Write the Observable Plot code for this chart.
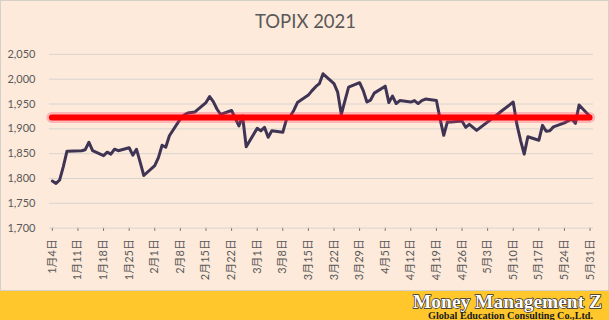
<!DOCTYPE html>
<html>
<head>
<meta charset="utf-8">
<script src="https://cdn.jsdelivr.net/npm/d3@7"></script>
<script src="https://cdn.jsdelivr.net/npm/@observablehq/plot@0.6"></script>
<style>
  html, body { margin: 0; padding: 0; background: #ffffff; }
  #wrap { position: relative; width: 609px; height: 320px; overflow: hidden; }
  #chart { position: absolute; left: 0; top: 0; width: 607px; height: 289px;
           background: #FDEADB; border: 1px solid #D6D0CB; }
  #title { position: absolute; left: 0; top: 9px; width: 609px; text-align: center;
           font-family: Lato, "Open Sans", sans-serif; font-size: 18.5px; color: #595959; }
  #plot { position: absolute; left: -1px; top: -1px; }
  #footer { position: absolute; left: 0; top: 291px; width: 609px; height: 29px; background: #FFC72C; }
</style>
</head>
<body>
<div id="wrap">
  <div id="chart"><div id="plot"></div><div id="title">TOPIX 2021</div></div>
  <div id="footer">
    <svg width="609" height="29" style="position:absolute;left:0;top:0">
      <text x="413" y="16.5" textLength="189" lengthAdjust="spacingAndGlyphs"
        style="font-family:'Liberation Serif','DejaVu Serif',serif;font-weight:bold;font-size:18px;fill:#ffffff;stroke:#2a2a36;stroke-width:1.3px;paint-order:stroke;">Money Management Z</text>
      <text x="428" y="27.5" textLength="165" lengthAdjust="spacingAndGlyphs"
        style="font-family:'Liberation Serif','DejaVu Serif',serif;font-weight:bold;font-size:9.5px;fill:#1a1a1a;">Global Education Consulting Co.,Ltd.</text>
    </svg>
  </div>
</div>
<script>
const dates = [
  "2021-01-04","2021-01-05","2021-01-06","2021-01-07","2021-01-08",
  "2021-01-12","2021-01-13","2021-01-14","2021-01-15",
  "2021-01-18","2021-01-19","2021-01-20","2021-01-21","2021-01-22",
  "2021-01-25","2021-01-26","2021-01-27","2021-01-28","2021-01-29",
  "2021-02-01","2021-02-02","2021-02-03","2021-02-04","2021-02-05",
  "2021-02-08","2021-02-09","2021-02-10","2021-02-12",
  "2021-02-15","2021-02-16","2021-02-17","2021-02-18","2021-02-19",
  "2021-02-22","2021-02-24","2021-02-25","2021-02-26",
  "2021-03-01","2021-03-02","2021-03-03","2021-03-04","2021-03-05",
  "2021-03-08","2021-03-09","2021-03-10","2021-03-11","2021-03-12",
  "2021-03-15","2021-03-16","2021-03-17","2021-03-18","2021-03-19",
  "2021-03-22","2021-03-23","2021-03-24","2021-03-25","2021-03-26",
  "2021-03-29","2021-03-30","2021-03-31","2021-04-01","2021-04-02",
  "2021-04-05","2021-04-06","2021-04-07","2021-04-08","2021-04-09",
  "2021-04-12","2021-04-13","2021-04-14","2021-04-15","2021-04-16",
  "2021-04-19","2021-04-20","2021-04-21","2021-04-22","2021-04-23",
  "2021-04-26","2021-04-27","2021-04-28","2021-04-30",
  "2021-05-06","2021-05-07",
  "2021-05-10","2021-05-11","2021-05-12","2021-05-13","2021-05-14",
  "2021-05-17","2021-05-18","2021-05-19","2021-05-20","2021-05-21",
  "2021-05-24","2021-05-25","2021-05-26","2021-05-27","2021-05-28",
  "2021-05-31"
];
const values = [
  1795,1790,1797,1824,1855,
  1856,1858,1873,1856,
  1846,1853,1849,1859,1856,
  1862,1847,1859,1833,1806,
  1826,1842,1867,1863,1886,
  1920,1928,1932,1934,
  1953,1965,1955,1940,1929,
  1937,1906,1926,1864,
  1901,1896,1903,1883,1896,
  1893,1919,1925,1937,1953,
  1968,1977,1985,1991,2011,
  1991,1974,1929,1957,1984,
  1993,1977,1954,1958,1972,
  1986,1953,1966,1951,1957,
  1954,1957,1951,1957,1960,
  1957,1920,1887,1914,1914,
  1916,1903,1909,1897,
  1931,1937,
  1954,1909,1877,1849,1884,
  1877,1907,1895,1896,1904,
  1912,1916,1920,1911,1948,
  1925
];
const yTicks = [1700,1750,1800,1850,1900,1950,2000,2050];
const tickDates = [
  "2021-01-04","2021-01-11","2021-01-18","2021-01-25",
  "2021-02-01","2021-02-08","2021-02-15","2021-02-22",
  "2021-03-01","2021-03-08","2021-03-15","2021-03-22","2021-03-29",
  "2021-04-05","2021-04-12","2021-04-19","2021-04-26",
  "2021-05-03","2021-05-10","2021-05-17","2021-05-24","2021-05-31"
];
const tickLabels = [
  "1月4日","1月11日","1月18日","1月25日",
  "2月1日","2月8日","2月15日","2月22日",
  "3月1日","3月8日","3月15日","3月22日","3月29日",
  "4月5日","4月12日","4月19日","4月26日",
  "5月3日","5月10日","5月17日","5月24日","5月31日"
];
const refLevel = [1923];

const toDate = s => new Date(s + "T00:00:00Z");
const data = dates.map((d, i) => ({date: toDate(d), value: values[i]}));
const tickDateObjs = tickDates.map(toDate);
const labelMap = new Map(tickDateObjs.map((d, i) => [d.getTime(), tickLabels[i]]));
const DAY = 864e5;
const x0 = new Date(toDate(dates[0]).getTime() - 0.8 * DAY);
const x1 = new Date(toDate(dates[dates.length - 1]).getTime() + 0.95 * DAY);
const ref = refLevel.map(v => ({y: v, x1: toDate(dates[0]), x2: toDate(dates[dates.length - 1])}));

const chart = Plot.plot({
  width: 609,
  height: 290,
  marginLeft: 49,
  marginRight: 15,
  marginTop: 54,
  marginBottom: 62,
  style: {background: "transparent", fontFamily: "Lato, 'Noto Sans CJK JP', sans-serif", fontSize: "11px", color: "#595959", overflow: "visible"},
  x: {type: "utc", domain: [x0, x1], ticks: tickDateObjs, tickFormat: d => labelMap.get(d.getTime()) || "",
      tickRotate: -90, tickSize: 3, tickPadding: 8, label: null, line: false},
  y: {domain: [1700, 2050], ticks: yTicks, tickFormat: d3.format(","), tickSize: 0, tickPadding: 14, label: null},
  marks: [
    Plot.ruleY(yTicks, {stroke: "#D9D4D0", strokeWidth: 1}),
    Plot.line(data, {x: "date", y: "value", stroke: "#3F3454", strokeWidth: 3, strokeLinejoin: "round", strokeLinecap: "round"}),
    Plot.ruleY(ref, {y: "y", x1: "x1", x2: "x2", stroke: "#FF2A55", strokeOpacity: 0.28, strokeWidth: 11, strokeLinecap: "round"}),
    Plot.ruleY(ref, {y: "y", x1: "x1", x2: "x2", stroke: "#FF0000", strokeWidth: 6, strokeLinecap: "round"})
  ]
});
document.getElementById("plot").appendChild(chart);
</script>
</body>
</html>
